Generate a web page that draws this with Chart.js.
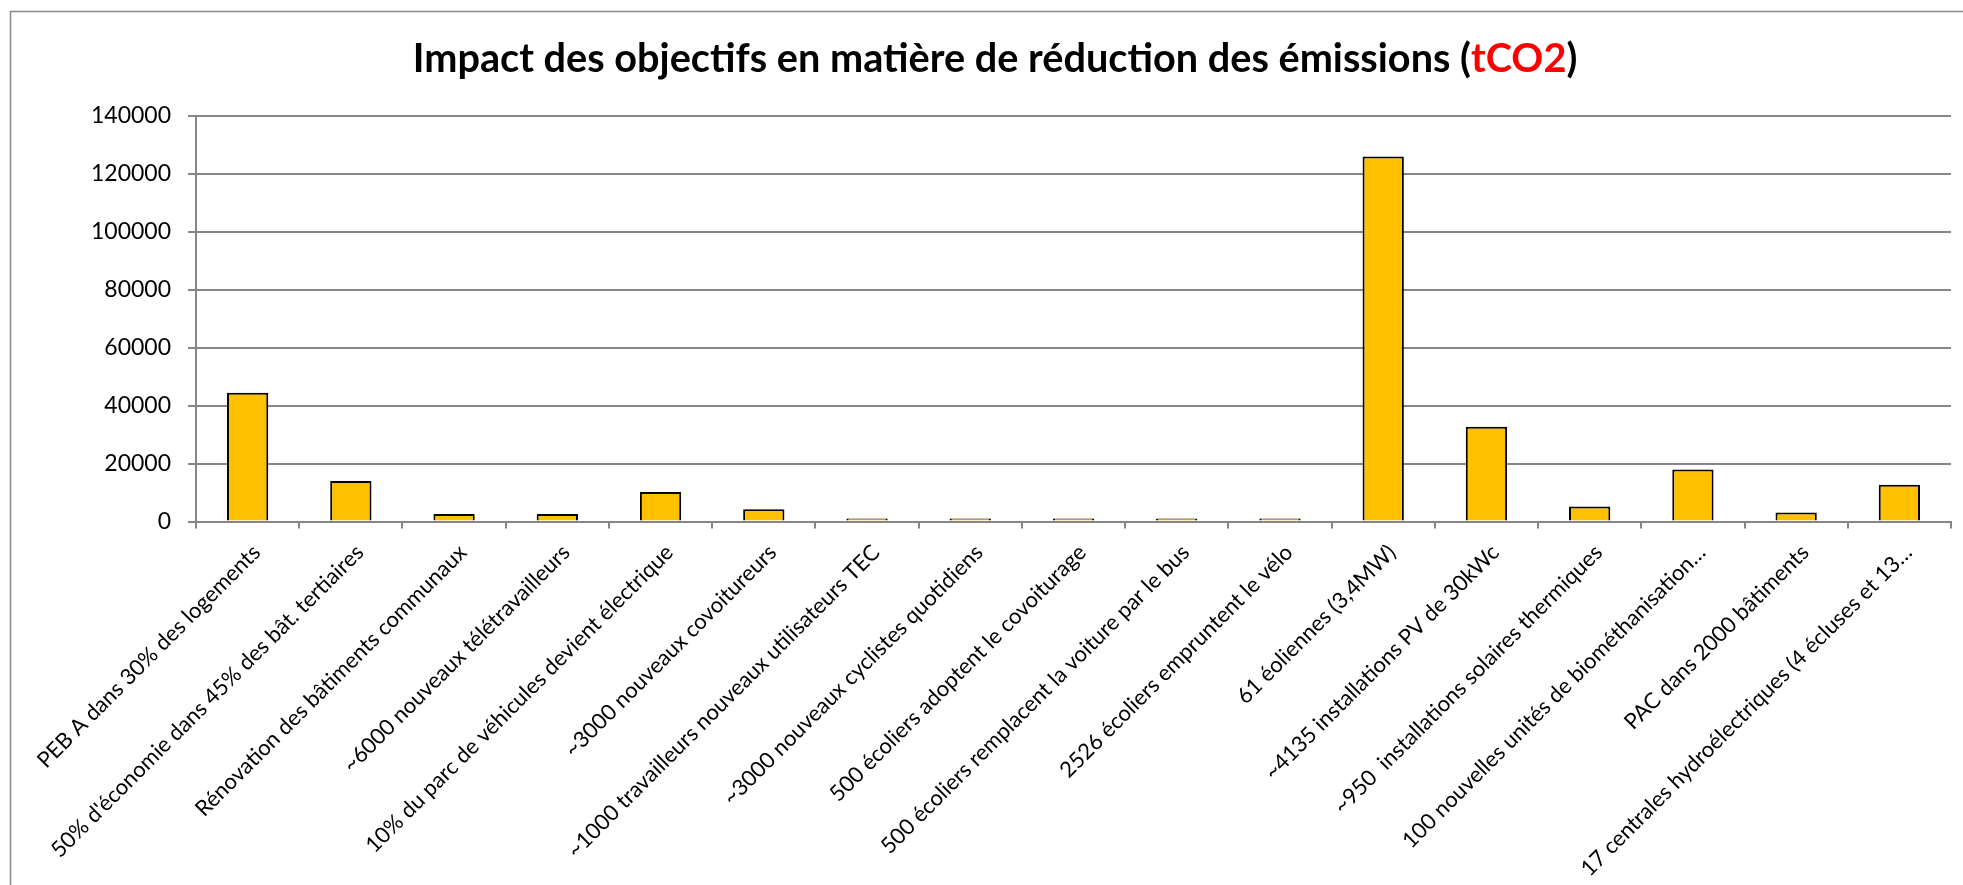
<!DOCTYPE html>
<html><head><meta charset="utf-8">
<script src="https://cdn.jsdelivr.net/npm/chart.js@4/dist/chart.umd.min.js"></script>
<style>html,body{margin:0;padding:0;background:#fff;overflow:hidden}#wrap{width:1963px;height:885px;position:relative}canvas{display:block}</style>
</head><body><div id="wrap"><canvas id="c" width="1963" height="885"></canvas></div>
<script>
const categories = [
  "PEB A dans 30% des logements",
  "50% d'économie dans 45% des bât. tertiaires",
  "Rénovation des bâtiments communaux",
  "~6000 nouveaux télétravailleurs",
  "10% du parc de véhicules devient électrique",
  "~3000 nouveaux covoitureurs",
  "~1000 travailleurs nouveaux utilisateurs TEC",
  "~3000 nouveaux cyclistes quotidiens",
  "500 écoliers adoptent le covoiturage",
  "500 écoliers remplacent la voiture par le bus",
  "2526 écoliers empruntent le vélo",
  "61 éoliennes (3,4MW)",
  "~4135 installations PV de 30kWc",
  "~950  installations solaires thermiques",
  "100 nouvelles unités de biométhanisation…",
  "PAC dans 2000 bâtiments",
  "17 centrales hydroélectriques (4 écluses et 13…"
];
const reductions = [44400, 14000, 2600, 2600, 10200, 4250, 300, 650, 300, 250, 500, 125900, 32700, 5200, 17950, 3100, 12700];
const yTicks = [0, 20000, 40000, 60000, 80000, 100000, 120000, 140000];
const titleMain = "Impact des objectifs en matière de réduction des émissions (";
const titleUnit = "tCO2";
const titleEnd = ")";

const FONT = "Lato";

const framePlugin = {
  id: 'frame',
  beforeDraw(chart) {
    const ctx = chart.ctx;
    ctx.save();
    ctx.fillStyle = '#fff';
    ctx.fillRect(0, 0, chart.width, chart.height);
    ctx.strokeStyle = '#8a8a8a';
    ctx.lineWidth = 1.5;
    ctx.beginPath();
    ctx.moveTo(10.5, chart.height);
    ctx.lineTo(10.5, 11.5);
    ctx.lineTo(chart.width, 11.5);
    ctx.stroke();
    ctx.restore();
  }
};

const titlePlugin = {
  id: 'mixedTitle',
  afterDraw(chart) {
    const ctx = chart.ctx;
    ctx.save();
    let size = 40;
    ctx.font = `bold ${size}px ${FONT}`;
    const full = titleMain + titleUnit + titleEnd;
    size = size * 1164 / ctx.measureText(full).width;
    ctx.font = `bold ${size}px ${FONT}`;
    const w1 = ctx.measureText(titleMain).width;
    const w2 = ctx.measureText(titleUnit).width;
    const w3 = ctx.measureText(titleEnd).width;
    let x = 995 - (w1 + w2 + w3) / 2;
    const y = 72;
    ctx.textAlign = 'left';
    ctx.textBaseline = 'alphabetic';
    ctx.fillStyle = '#000';
    ctx.fillText(titleMain, x, y); x += w1;
    ctx.fillStyle = '#FF0000';
    ctx.fillText(titleUnit, x, y); x += w2;
    ctx.fillStyle = '#000';
    ctx.fillText(titleEnd, x, y);
    ctx.restore();
  }
};

function draw() {
  new Chart(document.getElementById('c'), {
    type: 'bar',
    data: {
      labels: categories,
      datasets: [{
        data: reductions,
        backgroundColor: '#FFC000',
        borderColor: '#000',
        borderWidth: 2,
        borderSkipped: 'start',
        minBarLength: 3,
        barPercentage: 0.4,
        categoryPercentage: 1.0
      }]
    },
    options: {
      responsive: false,
      animation: false,
      devicePixelRatio: 1,
      layout: { padding: { top: 115.5, right: 12, left: 0, bottom: 0 } },
      plugins: { legend: { display: false }, title: { display: false }, tooltip: { enabled: false } },
      scales: {
        x: {
          z: 1,
          grid: { display: true, drawOnChartArea: false, drawTicks: true, tickLength: 7, color: '#868686', lineWidth: 2, offset: true },
          border: { display: true, color: '#868686', width: 2 },
          ticks: { autoSkip: false, minRotation: 45, maxRotation: 45, color: '#000', font: { family: FONT, size: 22 }, padding: 11, labelOffset: 9 },
          afterFit: s => { s.height = 363.5; s.paddingLeft = 0; s.paddingRight = 0; }
        },
        y: {
          min: 0, max: 140000,
          afterBuildTicks: s => { s.ticks = yTicks.map(v => ({ value: v })); },
          ticks: { color: '#000', font: { family: FONT, size: 23 }, padding: 17, callback: v => String(v) },
          grid: { color: '#868686', lineWidth: 2, tickLength: 8 },
          border: { color: '#868686', width: 2 },
          afterFit: s => { s.width = 196; }
        }
      }
    },
    plugins: [framePlugin, titlePlugin]
  });
}
if (document.fonts && document.fonts.load) {
  Promise.all([document.fonts.load(`22px ${FONT}`), document.fonts.load(`bold 40px ${FONT}`)]).then(draw, draw);
} else { draw(); }
</script>
</body></html>
